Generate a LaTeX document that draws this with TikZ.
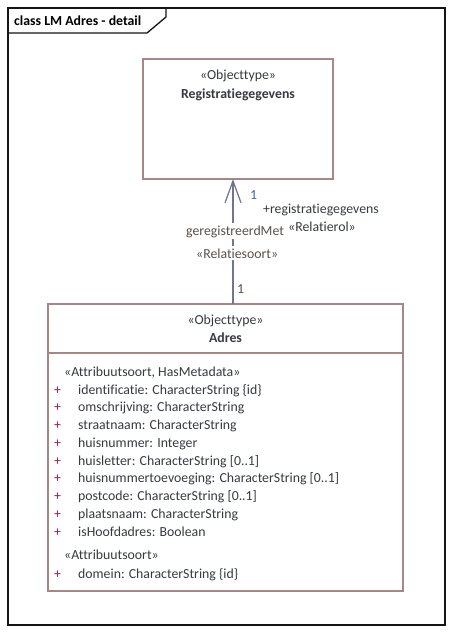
\documentclass[tikz,border=0pt]{standalone}
\usepackage{fontspec}
\setmainfont{Carlito}[Ligatures={NoCommon}]
\usetikzlibrary{arrows.meta}
\definecolor{frameline}{RGB}{20,20,20}
\definecolor{boxline}{RGB}{165,135,135}
\definecolor{txt}{RGB}{55,58,66}
\definecolor{conn}{RGB}{110,118,145}
\definecolor{lbl}{RGB}{90,80,75}
\definecolor{mult}{RGB}{55,105,175}
\definecolor{vis}{RGB}{140,30,70}
\tikzset{
  classbox/.style={draw=boxline, line width=1.4pt, fill=white},
  txtline/.style={inner sep=0pt, text=txt, font=\fontsize{13.8}{16}\selectfont},
  cen/.style={txtline, anchor=base},
  lft/.style={txtline, anchor=base west},
  plus/.style={inner sep=0pt, anchor=base west, text=vis, font=\fontsize{13.8}{16}\selectfont},
  conlbl/.style={inner sep=0pt, anchor=base west, text=lbl, font=\fontsize{13.8}{16}\selectfont},
  masked/.style={fill=white, inner ysep=2pt},
  assoc/.style={draw=conn, line width=1.25pt},
}
\begin{document}
\begin{tikzpicture}[x=1pt,y=-1pt]
\useasboundingbox (0,0) rectangle (453,633);
% diagram frame with name tab
\draw[frameline, line width=1.3pt] (8,8) rectangle (445,625);
\draw[frameline, line width=1.3pt] (8,33) -- (147,33) -- (166,17) -- (166,8);
\node[inner sep=0pt, anchor=base west, text=black, font=\fontsize{13.8}{16}\selectfont\bfseries] (title) at (14,25) {class LM Adres - detail};

% class Registratiegegevens
\path[classbox] (143,59) rectangle (333,179);
\coordinate (regS) at (233,179);
\node[cen] (regst) at (238,79) {«Objecttype»};
\node[cen, font=\fontsize{13.8}{16}\selectfont\bfseries] (regname) at (238,98) {Registratiegegevens};

% class Adres
\path[classbox] (48,304) rectangle (403,591);
\draw[boxline, line width=1.4pt] (48,353) -- (403,353);
\coordinate (adrN) at (233,304);
\node[cen] (adrst) at (225.5,324) {«Objecttype»};
\node[cen, font=\fontsize{13.8}{16}\selectfont\bfseries] (adrname) at (225.5,342) {Adres};

\node[lft] (grp1) at (64,376) {«Attribuutsoort, HasMetadata»};
\foreach \t [count=\i from 0] in {
  identificatie: CharacterString \{id\},
  omschrijving: CharacterString,
  straatnaam: CharacterString,
  huisnummer: Integer,
  huisletter: CharacterString [0..1],
  huisnummertoevoeging: CharacterString [0..1],
  postcode: CharacterString [0..1],
  plaatsnaam: CharacterString,
  isHoofdadres: Boolean}{
  \node[plus] (p\i) at (54,394+17.75*\i) {+};
  \node[lft] (a\i) at (78,394+17.75*\i) {\t};
}
\node[lft] (grp2) at (64,559) {«Attribuutsoort»};
\node[plus] (pd) at (54,578) {+};
\node[lft] (dom) at (78,578) {domein: CharacterString \{id\}};

% association geregistreerdMet
\draw[assoc, -{Straight Barb[length=22pt, width=16pt, line width=1.25pt]}] (adrN) -- (regS);
\node[inner sep=0pt, anchor=base west, text=mult, font=\fontsize{13.8}{16}\selectfont] (m1) at (250,199) {1};
\node[conlbl, text=txt] (role) at (263,213) {+registratiegegevens};
\node[conlbl, text=txt] (rolest) at (288,231) {«Relatierol»};
\node[conlbl, masked] (assocname) at (186,235) {geregistreerdMet};
\node[conlbl, masked] (assocst) at (196,258) {«Relatiesoort»};
\node[conlbl] (m2) at (237,293) {1};
\end{tikzpicture}
\end{document}
